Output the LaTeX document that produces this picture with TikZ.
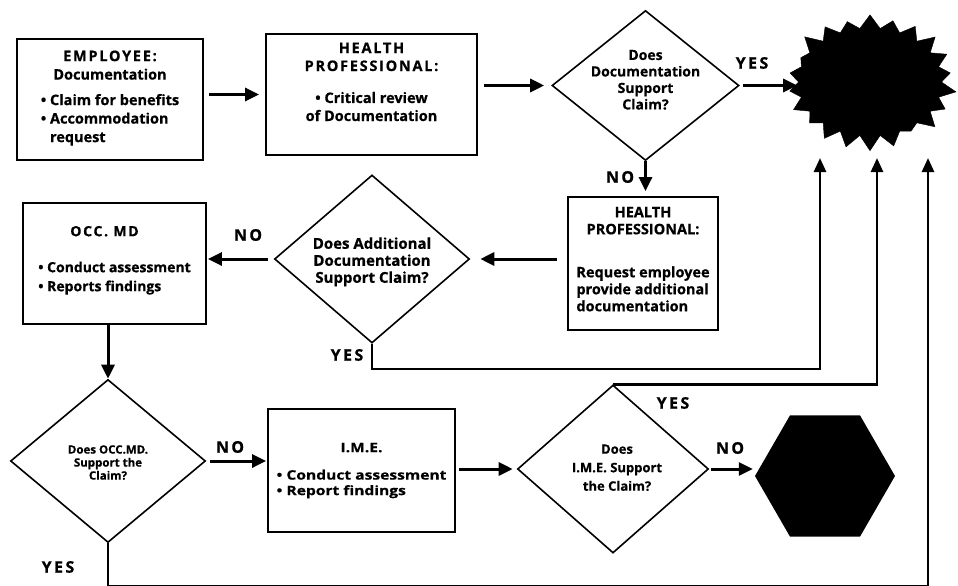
\documentclass[tikz,border=0pt]{standalone}
\usepackage{fontspec}
\setmainfont{Open Sans}[BoldFeatures={FakeBold=0.6}]
\usetikzlibrary{arrows.meta,shapes.geometric,shapes.symbols}
\newcommand\ztl[2]{\smash{\raisebox{#1}{\makebox[0pt]{\begin{tabular}{@{}l@{}}#2\end{tabular}}}}}
\newcommand\ztc[2]{\smash{\raisebox{#1}{\makebox[0pt]{\begin{tabular}{@{}c@{}}#2\end{tabular}}}}}
\newcommand\hd[1]{\multicolumn{1}{@{}c@{}}{#1}}
\newcommand\capls[1]{{\addfontfeature{LetterSpace=12}#1}}
\begin{document}
\begin{tikzpicture}[x=1pt,y=-1pt,
  box/.style={draw, line width=1.8pt, rectangle, inner sep=0pt},
  dia/.style={draw, line width=1.6pt, diamond, inner sep=0pt},
  arr/.style={line width=3pt, -{Triangle[length=14pt,width=13pt]}},
  conn/.style={line width=2.6pt, -{Triangle[length=14pt,width=12pt]}},
  lbl/.style={font=\bfseries\fontsize{16}{16}\selectfont\addfontfeature{LetterSpace=15}, inner sep=0pt},
]
\useasboundingbox[fill=white] (0,0) rectangle (958,586);

% boxes
\node[box, minimum width=186pt, minimum height=121pt, font=\bfseries\fontsize{14.5}{18.5}\selectfont] (b1) at (110,99.5)
  {\ztl{-2pt}{\hd{\capls{EMPLOYEE:}}\\ \hd{Documentation}\\[7pt] \textbullet\ Claim for benefits\\ \textbullet\ Accommodation\\ \phantom{\textbullet\ }request}};
\node[box, minimum width=211pt, minimum height=121pt, font=\bfseries\fontsize{14.5}{18}\selectfont] (b2) at (371.5,94.5)
  {\ztc{7.5pt}{\capls{HEALTH}\\ \capls{PROFESSIONAL:}\\[14pt] \textbullet\ Critical review\\ of Documentation}};
\node[box, minimum width=150pt, minimum height=133pt, font=\bfseries\fontsize{14.5}{17}\selectfont] (b3) at (643,263.5)
  {\ztl{-1pt}{\hd{HEALTH}\\ \hd{PROFESSIONAL:}\\[26pt] Request employee\\ provide additional\\ documentation}};
\node[box, minimum width=183pt, minimum height=121pt, font=\bfseries\fontsize{14}{19}\selectfont] (b4) at (114.5,263.5)
  {\ztl{0pt}{\hd{\capls{OCC. MD}\hspace*{20pt}}\\[17pt] \textbullet\ Conduct assessment\\ \textbullet\ Reports findings}};
\node[box, minimum width=187pt, minimum height=123pt, font=\bfseries\fontsize{13}{15.5}\selectfont\addfontfeature{FakeStretch=1.2}] (b5) at (361.5,470.5)
  {\ztl{-3pt}{\hd{I.M.E.}\\[12pt] \textbullet\ Conduct assessment\\ \textbullet\ Report findings}};

% diamonds
\node[dia, minimum width=187pt, minimum height=150pt, font=\bfseries\fontsize{14}{16.5}\selectfont] (d1) at (645.5,85.5)
  {\ztc{0.5pt}{Does\\ Documentation\\ Support\\ Claim?}};
\node[dia, minimum width=195pt, minimum height=168pt, font=\bfseries\fontsize{15}{17}\selectfont] (d2) at (372,259)
  {\ztc{-7pt}{Does Additional\\ Documentation\\ Support Claim?}};
\node[dia, minimum width=195pt, minimum height=163pt, font=\bfseries\fontsize{11.5}{13}\selectfont] (d3) at (108,461)
  {\ztc{-6pt}{Does OCC.MD.\\ Support the\\ Claim?}};
\node[dia, minimum width=191pt, minimum height=168pt, font=\bfseries\fontsize{13}{18.5}\selectfont] (d4) at (613,469)
  {\hspace*{8pt}\ztc{-2.5pt}{Does\\ I.M.E. Support\\ the Claim?}};

% terminals
\node[starburst, fill=black, draw=black, minimum width=175pt, minimum height=140pt,
  starburst points=22, starburst point height=16pt, random starburst=37, inner sep=0pt] (star) at (870,82) {};
\node[regular polygon, regular polygon sides=6, minimum size=140pt, fill=black, inner sep=0pt] (hex) at (825,476) {};

% labels
\node[lbl] (yes1) at (752,63) {YES};
\node[lbl] (no1) at (620,177) {NO};
\node[lbl] (no2) at (248,235) {NO};
\node[lbl] (yes2) at (347,355) {YES};
\node[lbl] (no3) at (230,447) {NO};
\node[lbl] (yes3) at (673,403) {YES};
\node[lbl] (no4) at (730,448) {NO};
\node[lbl] (yes4) at (58,567) {YES};

% coordinates
\coordinate (t1) at (820,158);
\coordinate (t2) at (877,158);
\coordinate (t3) at (928,158);
\coordinate (c1) at (820,369);
\coordinate (c3) at (928,586.5);

% connectors
\draw[arr, shorten <=5pt, shorten >=6pt] (b1.east |- b2) -- (b2.west);
\draw[arr, shorten <=6pt, shorten >=7pt] (b2.east |- d1) -- (d1.west);
\draw[arr, shorten <=3pt, shorten >=1pt] (d1.east) -- (d1.east -| star.west);
\draw[arr, shorten >=5pt] (d1.south) -- (d1.south |- b3.north);
\draw[arr, shorten <=10pt, shorten >=10pt] (b3.west |- d2) -- (d2.east);
\draw[arr, shorten <=6pt, shorten >=1pt] (d2.west) -- (d2.west -| b4.east);
\draw[arr] (d3.north |- b4.south) -- (d3.north);
\draw[arr, shorten <=4pt, shorten >=1pt] (d3.east) -- (d3.east -| b5.west);
\draw[arr, shorten <=3pt, shorten >=4pt] (b5.east |- d4) -- (d4.west);
\draw[arr, shorten <=2pt, shorten >=2pt] (d4.east) -- (d4.east -| hex.west);
\draw[conn] (d2.south) |- (c1) -- (t1);
\draw[conn] (d4.north) -| (t2);
\draw[conn] (d3.south) |- (c3) -- (t3);
\end{tikzpicture}
\end{document}
